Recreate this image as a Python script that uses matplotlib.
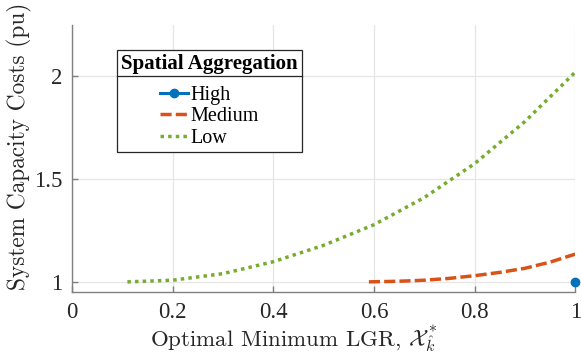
import matplotlib
matplotlib.use("Agg")
import matplotlib.pyplot as plt
from matplotlib.lines import Line2D

# ---- data ----
high_x = [1.0]
high_y = [1.0]

medium_x = [0.59, 0.65, 0.70, 0.75, 0.80, 0.85, 0.90, 0.95, 1.00]
medium_y = [1.000, 1.003, 1.008, 1.017, 1.030, 1.046, 1.066, 1.096, 1.135]

low_x = [0.11, 0.20, 0.30, 0.40, 0.50, 0.60, 0.70, 0.80, 0.90, 1.00]
low_y = [1.000, 1.008, 1.040, 1.098, 1.178, 1.278, 1.410, 1.575, 1.780, 2.020]

series_labels = ["High", "Medium", "Low"]
legend_title = "Spatial Aggregation"
xticks = [0, 0.2, 0.4, 0.6, 0.8, 1]
xticklabels = ["0", "0.2", "0.4", "0.6", "0.8", "1"]
yticks = [1, 1.5, 2]
yticklabels = ["1", "1.5", "2"]

plt.rcParams["font.family"] = ["Liberation Serif", "DejaVu Serif"]
plt.rcParams["mathtext.fontset"] = "cm"

fig = plt.figure(figsize=(5.81, 3.62), dpi=100)
ax = fig.add_axes([0.124, 0.193, 0.866, 0.738])

c_blue = "#0072BD"
c_orange = "#D95319"
c_green = "#77AC30"

ax.plot(high_x, high_y, color=c_blue, lw=2.2, marker="o", ms=6, clip_on=False,
        zorder=5, label=series_labels[0])
ax.plot(medium_x, medium_y, color=c_orange, lw=2.5, dashes=(3.2, 1.2),
        label=series_labels[1])
ax.plot(low_x, low_y, color=c_green, lw=2.5, dashes=(1.0, 1.2),
        label=series_labels[2])

ax.set_xlim(0, 1)
ax.set_ylim(0.95, 2.25)
ax.set_xticks(xticks)
ax.set_xticklabels(xticklabels)
ax.set_yticks(yticks)
ax.set_yticklabels(yticklabels)

ax.grid(True, color="#e6e6e6", lw=0.9)
ax.set_axisbelow(True)
for s in ["top", "right"]:
    ax.spines[s].set_visible(False)
for s in ["left", "bottom"]:
    ax.spines[s].set_color("#808080")
    ax.spines[s].set_linewidth(1.0)
ax.tick_params(direction="in", length=4, width=1, colors="#808080",
               labelcolor="#262626", labelsize=16.5, pad=7)

ax.set_xlabel(r"Optimal Minimum LGR, $\mathcal{X}^*_{\hat{k}}$",
              fontsize=16.5, color="#262626", family="cmr10")
ax.xaxis.set_label_coords(0.44, -0.115)
ax.set_ylabel("System Capacity Costs (pu)", fontsize=16.8, color="#262626",
              family="cmr10")
ax.yaxis.set_label_coords(-0.08, 0.545)

leg = ax.legend(title=legend_title, loc="upper left",
                bbox_to_anchor=(0.09, 0.905), fontsize=14.5,
                title_fontproperties={"weight": "bold", "size": 15},
                frameon=True, fancybox=False, edgecolor="#262626",
                handlelength=1.4, handletextpad=0.12, borderpad=0.2,
                labelspacing=0.12, borderaxespad=0, alignment="center")
leg.get_frame().set_linewidth(0.9)
leg.get_frame().set_facecolor("white")
leg.get_frame().set_alpha(1)
leg._legend_box.sep = 8

fig.canvas.draw()
fr = leg.get_frame().get_window_extent()
tb = leg.get_title().get_window_extent()
inv = fig.transFigure.inverted()
(x0, yline), = inv.transform([(fr.x0, tb.y0 - 2)])
(x1, _), = inv.transform([(fr.x1, tb.y0 - 2)])
fig.add_artist(Line2D([x0, x1], [yline, yline], color="#262626", lw=0.9,
                      transform=fig.transFigure))

fig.savefig("out.png", dpi=100)
